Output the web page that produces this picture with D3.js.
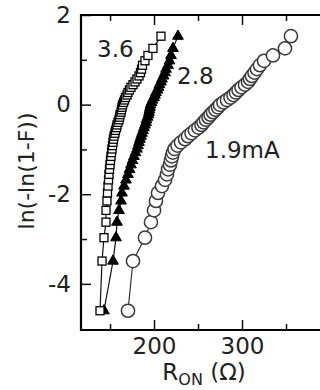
<!DOCTYPE html>
<html>
<head>
<meta charset="utf-8">
<script src="https://cdn.jsdelivr.net/npm/d3@7"></script>
<style>
  body { margin: 0; background: #fff; }
  text { font-family: "DejaVu Sans", sans-serif; fill: #222; }
</style>
</head>
<body>
<div id="chart"></div>
<script>
// Weibull plot levels, ln(-ln(1-F)), shared by the three runs
var lnF = [-4.600, -3.491, -2.970, -2.623, -2.361, -2.150, -1.971, -1.817, -1.680, -1.557,
           -1.445, -1.342, -1.246, -1.156, -1.071, -0.991, -0.915, -0.842, -0.772, -0.705,
           -0.639, -0.576, -0.514, -0.454, -0.396, -0.338, -0.281, -0.225, -0.170, -0.115,
           -0.060, -0.006, 0.049, 0.103, 0.158, 0.213, 0.270, 0.327, 0.385, 0.445,
           0.507, 0.572, 0.640, 0.713, 0.792, 0.879, 0.978, 1.097, 1.255, 1.527]

// R_ON values (ohm)
var ron36 = [138.6, 140.9, 143.1, 145.4, 145.4, 146.5, 147.1, 147.7, 148.3, 148.8,
             149.4, 150.0, 150.5, 151.1, 151.7, 152.2, 152.8, 153.4, 153.9, 154.5,
             155.6, 156.2, 157.3, 157.9, 159.0, 160.2, 160.8, 161.3, 162.5, 163.0,
             163.6, 164.2, 165.3, 166.4, 167.6, 169.3, 170.4, 172.1, 173.8, 176.1,
             178.4, 180.6, 182.9, 184.6, 185.8, 186.9, 189.7, 193.1, 198.8, 207.9]
var ron28 = [143.1, 153.4, 156.8, 157.9, 160.2, 162.5, 163.6, 165.9, 168.1, 170.4,
             172.1, 173.8, 175.5, 177.2, 178.9, 180.6, 181.8, 182.9, 184.0, 185.2,
             186.3, 187.5, 188.6, 189.7, 190.9, 191.4, 192.6, 193.7, 194.3, 194.8,
             195.4, 196.0, 197.1, 198.3, 200.0, 201.1, 202.2, 203.9, 205.1, 206.2,
             207.9, 209.0, 210.8, 212.5, 213.6, 215.9, 217.6, 219.3, 221.5, 227.2]
var ron19 = [170.4, 176.1, 189.7, 196.5, 200.0, 202.2, 204.5, 209.0, 212.5, 214.7,
             215.9, 218.1, 219.3, 220.4, 221.5, 223.3, 226.7, 230.6, 235.2, 238.6,
             242.6, 246.5, 250.5, 253.9, 256.2, 259.0, 261.9, 264.2, 267.0, 269.8,
             272.7, 275.0, 278.9, 282.9, 286.9, 290.3, 293.1, 296.0, 299.4, 303.4,
             306.8, 309.0, 311.3, 314.2, 317.0, 320.4, 325.0, 335.2, 348.8, 355.6]

var seriesLabels = ["3.6", "2.8", "1.9mA"]
var xMajor = [200, 300], xMinor = [150, 250, 350]
var yMajor = [2, 0, -2, -4], yMinor = [1, -1, -3]

var width = 320, height = 390

var svg = d3.select("#chart")
  .append("svg")
    .attr("width", width)
    .attr("height", height)

var x = d3.scaleLinear().domain([117, 400]).range([81, 330])
var y = d3.scaleLinear().domain([-5.03, 2]).range([330, 15])

var fmt = function(d){ return String(d) }

// bottom axis, inward ticks
svg.append("g")
    .attr("transform", "translate(0,330)")
    .call(d3.axisBottom(x).tickValues(xMajor).tickSize(-10).tickPadding(8).tickFormat(fmt))
svg.append("g")
    .attr("transform", "translate(0,330)")
    .call(d3.axisBottom(x).tickValues(xMinor).tickSize(-6).tickFormat(""))
// top axis
svg.append("g")
    .attr("transform", "translate(0,15)")
    .call(d3.axisTop(x).tickValues(xMajor).tickSize(-10).tickFormat(""))
svg.append("g")
    .attr("transform", "translate(0,15)")
    .call(d3.axisTop(x).tickValues(xMinor).tickSize(-6).tickFormat(""))
// left axis
svg.append("g")
    .attr("transform", "translate(81,0)")
    .call(d3.axisLeft(y).tickValues(yMajor).tickSize(-10).tickPadding(10).tickFormat(fmt))
svg.append("g")
    .attr("transform", "translate(81,0)")
    .call(d3.axisLeft(y).tickValues(yMinor).tickSize(-6).tickFormat(""))

svg.selectAll(".domain").remove()
svg.selectAll(".tick line").attr("stroke", "#111").attr("stroke-width", 1.5)
svg.selectAll(".tick text")
    .style("font-size", "23px")
    .style("font-family", "'DejaVu Sans', sans-serif")
    .attr("fill", "#222")

// frame
svg.append("path")
    .attr("d", "M" + x(400) + ",15H81V330H" + x(400))
    .attr("fill", "none")
    .attr("stroke", "#000")
    .attr("stroke-width", 2.2)

var line = d3.line()
  .x(function(d){ return x(d[0]) })
  .y(function(d){ return y(d[1]) })

function pairs(xs){ return xs.map(function(v, i){ return [v, lnF[i]] }) }

var p19 = pairs(ron19), p28 = pairs(ron28), p36 = pairs(ron36)

// circles 1.9 mA
svg.append("path").datum(p19)
    .attr("d", line).attr("fill", "none").attr("stroke", "#333").attr("stroke-width", 1.2)
svg.selectAll("c19")
  .data(p19)
  .enter()
  .append("circle")
    .attr("cx", function(d){ return x(d[0]) })
    .attr("cy", function(d){ return y(d[1]) })
    .attr("r", 6.6)
    .attr("fill", "#fff")
    .attr("stroke", "#3a3a3a")
    .attr("stroke-width", 1.5)

// triangles 2.8 mA
svg.append("path").datum(p28)
    .attr("d", line).attr("fill", "none").attr("stroke", "#111").attr("stroke-width", 1.2)
svg.selectAll("t28")
  .data(p28)
  .enter()
  .append("path")
    .attr("transform", function(d){ return "translate(" + x(d[0]) + "," + y(d[1]) + ")" })
    .attr("d", d3.symbol().type(d3.symbolTriangle).size(50))
    .attr("fill", "#000")
    .attr("stroke", "#000")
    .attr("stroke-width", 1)

// squares 3.6 mA
svg.append("path").datum(p36)
    .attr("d", line).attr("fill", "none").attr("stroke", "#111").attr("stroke-width", 1.2)
svg.selectAll("s36")
  .data(p36)
  .enter()
  .append("rect")
    .attr("x", function(d){ return x(d[0]) - 4 })
    .attr("y", function(d){ return y(d[1]) - 4 })
    .attr("width", 8)
    .attr("height", 8)
    .attr("fill", "#fff")
    .attr("stroke", "#000")
    .attr("stroke-width", 1.3)

// series labels
var labelPos = [[97, 57], [177, 84], [205, 158]]
svg.selectAll("slabels")
  .data(seriesLabels)
  .enter()
  .append("text")
    .attr("x", function(d, i){ return labelPos[i][0] })
    .attr("y", function(d, i){ return labelPos[i][1] })
    .style("font-size", "23px")
    .text(function(d){ return d })

// axis titles
var xt = svg.append("text")
    .attr("x", 204)
    .attr("y", 380)
    .attr("text-anchor", "middle")
    .style("font-size", "23px")
xt.append("tspan").text("R")
xt.append("tspan").attr("dy", 5).style("font-size", "16px").text("ON")
xt.append("tspan").attr("dy", -5).text(" (Ω)")

svg.append("text")
    .attr("transform", "translate(34,171) rotate(-90)")
    .attr("text-anchor", "middle")
    .style("font-size", "22px")
    .text("ln(-ln(1-F))")
</script>
</body>
</html>
